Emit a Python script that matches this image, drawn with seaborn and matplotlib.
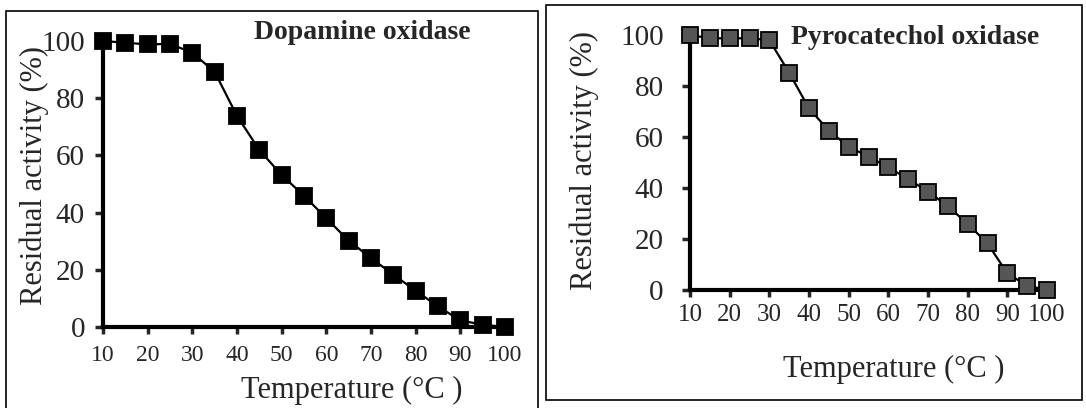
import matplotlib
matplotlib.use("Agg")
import matplotlib.pyplot as plt
import seaborn as sns
import pandas as pd
from matplotlib.patches import Rectangle

temperature = [10, 15, 20, 25, 30, 35, 40, 45, 50, 55, 60, 65, 70, 75, 80, 85, 90, 95, 100]
dopamine = [100, 99.4, 98.8, 99, 95.9, 89.2, 73.8, 61.9, 53.1, 45.9, 38.0, 30.2, 24.1, 18.3, 12.7, 7.2, 2.3, 0.8, 0]
pyrocatechol = [100, 98.7, 98.7, 98.7, 98.0, 85.2, 71.2, 62.5, 56.2, 52.3, 48.1, 43.5, 38.6, 32.9, 25.9, 18.3, 6.5, 1.7, 0]
x_ticks = [10, 20, 30, 40, 50, 60, 70, 80, 90, 100]
y_ticks = [0, 20, 40, 60, 80, 100]

sns.set_style("white")
plt.rcParams["font.family"] = ["Liberation Serif", "DejaVu Serif"]

W, H = 1086, 408
fig = plt.figure(figsize=(W / 100, H / 100), dpi=100)

# panel frames
fig.add_artist(Rectangle((6 / W, -0.01), 532 / W, 1 - 11 / H + 0.01, transform=fig.transFigure,
                         fill=False, lw=1.2, ec="black"))
fig.add_artist(Rectangle((546 / W, 1 - 400 / H), 536 / W, 395 / H, transform=fig.transFigure,
                         fill=False, lw=1.2, ec="black"))


def panel(ax, y, title, face, msize, xfs, yfs, xpad, ypad, ylab_xy, xlab_xy, title_xy):
    df = pd.DataFrame({"t": temperature, "a": y})
    sns.lineplot(data=df, x="t", y="a", ax=ax, color="black", lw=1.6, marker="s",
                 markersize=msize, markerfacecolor=face, markeredgecolor="black",
                 markeredgewidth=1.3, clip_on=False, zorder=5)
    ax.set_xlim(10, 100)
    ax.set_ylim(0, 100)
    ax.set_xticks(x_ticks)
    ax.set_yticks(y_ticks)
    for s in ["top", "right"]:
        ax.spines[s].set_visible(False)
    for s in ["left", "bottom"]:
        ax.spines[s].set_linewidth(3)
        ax.spines[s].set_color("black")
    ax.tick_params(axis="x", direction="out", length=5, width=2.5, labelsize=xfs, pad=xpad, bottom=True)
    ax.tick_params(axis="y", direction="out", length=6, width=2.5, labelsize=yfs, pad=ypad, left=True)
    ax.set_ylabel("Residual activity (%)", fontsize=22)
    ax.set_xlabel("Temperature (°C )", fontsize=22)
    ax.yaxis.set_label_coords(*ylab_xy)
    ax.xaxis.set_label_coords(*xlab_xy)
    ax.text(title_xy[0], title_xy[1], title, transform=ax.transAxes, ha="center", va="center",
            fontsize=20, fontweight="bold")


ax1 = fig.add_axes([103 / W, 1 - 327 / H, 402 / W, 286 / H])
panel(ax1, dopamine, "Dopamine oxidase", "black", 12, 17, 21, 8, 7,
      (-0.135, 0.53), (0.62, -0.17), (0.644, 1.03))

ax2 = fig.add_axes([690 / W, 1 - 290 / H, 357 / W, 255 / H])
panel(ax2, pyrocatechol, "Pyrocatechol oxidase", "#555555", 11, 18, 21, 5, 13,
      (-0.255, 0.506), (0.571, -0.255), (0.63, 0.99))

fig.savefig("out.png", dpi=100)
